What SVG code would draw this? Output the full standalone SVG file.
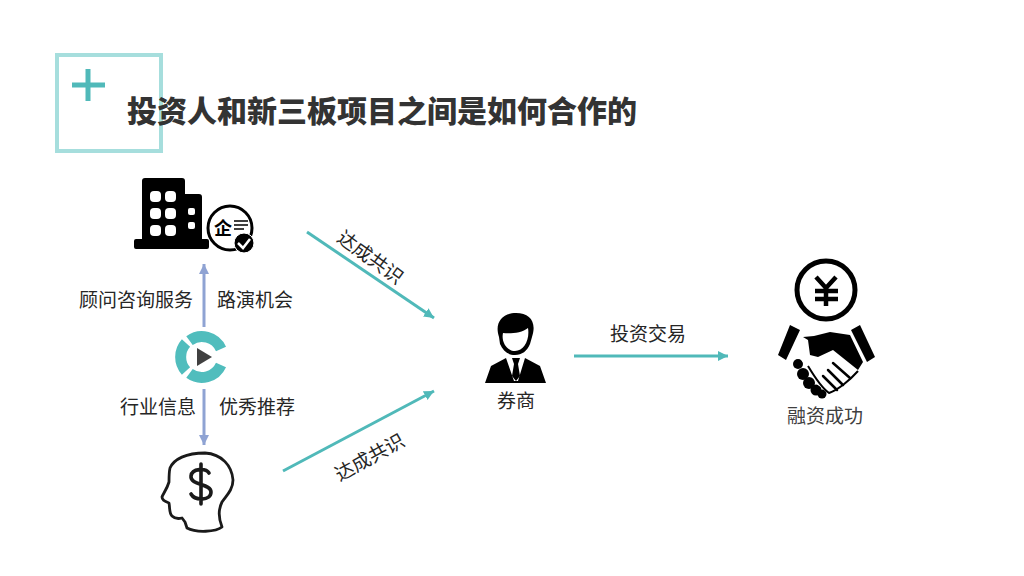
<svg xmlns="http://www.w3.org/2000/svg" width="1024" height="576" viewBox="0 0 1024 576">
<style>
text{font-family:"Noto Sans CJK SC","Liberation Sans",sans-serif;fill:#262626;font-size:19px}
.c{text-anchor:middle}
.teal{stroke:#50B9B9;stroke-width:3;fill:none}
.blue{stroke:#8FA3D3;stroke-width:3;fill:none}
.ring{stroke:#50BDBD;stroke-width:11;fill:none}
</style>
<defs>
<marker id="at" markerUnits="userSpaceOnUse" markerWidth="12" markerHeight="12" refX="10" refY="6" orient="auto"><path d="M0 1L10 6L0 11Z" fill="#50B9B9"/></marker>
<marker id="ab" markerUnits="userSpaceOnUse" markerWidth="12" markerHeight="12" refX="10" refY="6" orient="auto"><path d="M0 1L10 6L0 11Z" fill="#8FA3D3"/></marker>
</defs>
<rect width="1024" height="576" fill="#fff"/>
<g id="title">
<rect x="57" y="55" width="104" height="96" fill="none" stroke="#A6DEDD" stroke-width="4"/>
<path d="M72 85H105M88 69V101" stroke="#50B9B9" stroke-width="5" fill="none"/>
<text x="127" y="122" style="font-size:30px;font-weight:900;fill:#333">投资人和新三板项目之间是如何合作的</text>
</g>
<g id="connectors">
<path class="teal" d="M307 232L434 318" marker-end="url(#at)"/>
<path class="teal" d="M283 471L434 391" marker-end="url(#at)"/>
<path class="teal" d="M574 356H728" marker-end="url(#at)"/>
<path class="blue" d="M204 327V264" marker-end="url(#ab)"/>
<path class="blue" d="M204 389V445" marker-end="url(#ab)"/>
</g>
<g id="enterprise">
<path fill="#000" d="M145 178H182Q185 178 185 181V194H199Q202 194 202 197V239H207Q209 239 209 241V247Q209 249 207 249H136Q134 249 134 247V241Q134 239 136 239H142V181Q142 178 145 178Z"/>
<g fill="#fff"><rect x="150" y="191" width="11" height="11" rx="4"/><rect x="165" y="191" width="11" height="11" rx="4"/><rect x="150" y="208" width="11" height="11" rx="4"/><rect x="165" y="208" width="11" height="11" rx="4"/><rect x="150" y="225" width="11" height="11" rx="4"/><rect x="165" y="225" width="11" height="11" rx="4"/><rect x="188" y="208" width="7" height="7" rx="2"/><rect x="188" y="222" width="7" height="7" rx="2"/></g>
<circle cx="230" cy="228" r="22" fill="#fff" stroke="#000" stroke-width="3"/>
<text x="223" y="235" class="c" style="font-size:18px;font-weight:700;fill:#000">企</text>
<path d="M234 221H248M234 225H248M234 229H244" stroke="#000" stroke-width="1.6"/>
<circle cx="244" cy="243" r="10" fill="#000" stroke="#fff" stroke-width="1"/>
<path d="M238 243L243 248L250 239" stroke="#fff" stroke-width="2.5" fill="none"/>
</g>
<g id="platform">
<path class="ring" d="M189.5 340.6A21 21 0 0 1 221 349"/>
<path class="ring" d="M186 343A21 21 0 0 0 186 371"/>
<path class="ring" d="M189.5 373.4A21 21 0 0 0 221 365"/>
<path d="M197 348L212 357L197 366Z" fill="#404040"/>
</g>
<g id="investor">
<path d="M187 528L185 522L182 518C178 519 174 518 172 516C169 513 170 508 169 503C166 502 162 500 162 497C163 494 167 489 169 482C169 476 169 472 170 468C174 459 186 453 205 453C222 454 232 466 233 480C233 490 226 496 222 502C218 510 218 517 222 527C216 532 196 533 187 528Z" fill="#fff" stroke="#1a1a1a" stroke-width="2.8" stroke-linejoin="round"/>
<path d="M209 473C206 468 192 468 191 476C190 486 211 483 211 492C211 501 195 501 191 494M201 464V504" fill="none" stroke="#1a1a1a" stroke-width="3.6" stroke-linecap="round"/>
</g>
<g id="broker">
<path d="M499 337C494 322 503 313 516 313C530 313 537 322 532 337L530 344C527 351 522 355 515 355C508 355 503 351 500 344Z" fill="#000"/>
<path d="M503 333C510 334 522 333 528 328C530 340 524 351 515 351C507 351 501 342 503 333Z" fill="#fff"/>
<path d="M485 383L491 366L506 358L514 381H518L525 358L540 366L546 383Z" fill="#000"/>
<path d="M512 358H520L518 364L520 376L516 381L512 376L514 364Z" fill="#000"/>
<text x="516" y="408" class="c">券商</text>
</g>
<g id="success">
<circle cx="826" cy="290" r="29" fill="#fff" stroke="#000" stroke-width="5"/>
<path d="M816 277L826 288L836 277M815 291H838M815 299H838M826 288V306" fill="none" stroke="#000" stroke-width="4.5"/>
<path d="M790 325L800 330L786 360L778 355Z M860 325L851 330L867 362L875 357Z" fill="#000"/>
<path d="M803 337L814 336L830 332L850 335L863 362L858 370L833 350L818 357L810 355L808 340Z" fill="#000"/>
<g fill="#000"><circle cx="798" cy="364" r="5"/><circle cx="803" cy="374" r="6"/><circle cx="809" cy="383" r="6"/><circle cx="816" cy="390" r="5.5"/><circle cx="822" cy="394" r="4.5"/></g>
<path d="M800 358L818 385L828 393L857 372L832 352L818 359Z" fill="#fff"/>
<path d="M808 366C814 376 822 388 829 393C838 390 850 380 858 371" fill="none" stroke="#000" stroke-width="2"/>
<path d="M833 363L850 378M828 370L843 385M823 376L837 390" stroke="#000" stroke-width="2.5" stroke-linecap="round"/>
<text x="825" y="423" class="c" style="fill:#404040">融资成功</text>
</g>
<g id="labels">
<text x="136" y="306.500" class="c">顾问咨询服务</text>
<text x="255" y="306.500" class="c">路演机会</text>
<text x="158" y="413.500" class="c">行业信息</text>
<text x="257" y="413.500" class="c">优秀推荐</text>
<text x="648" y="340.500" class="c">投资交易</text>
<text x="370" y="264" class="c" transform="rotate(36 370 258)">达成共识</text>
<text x="370" y="464" class="c" transform="rotate(-29 370 458)">达成共识</text>
</g>
</svg>
